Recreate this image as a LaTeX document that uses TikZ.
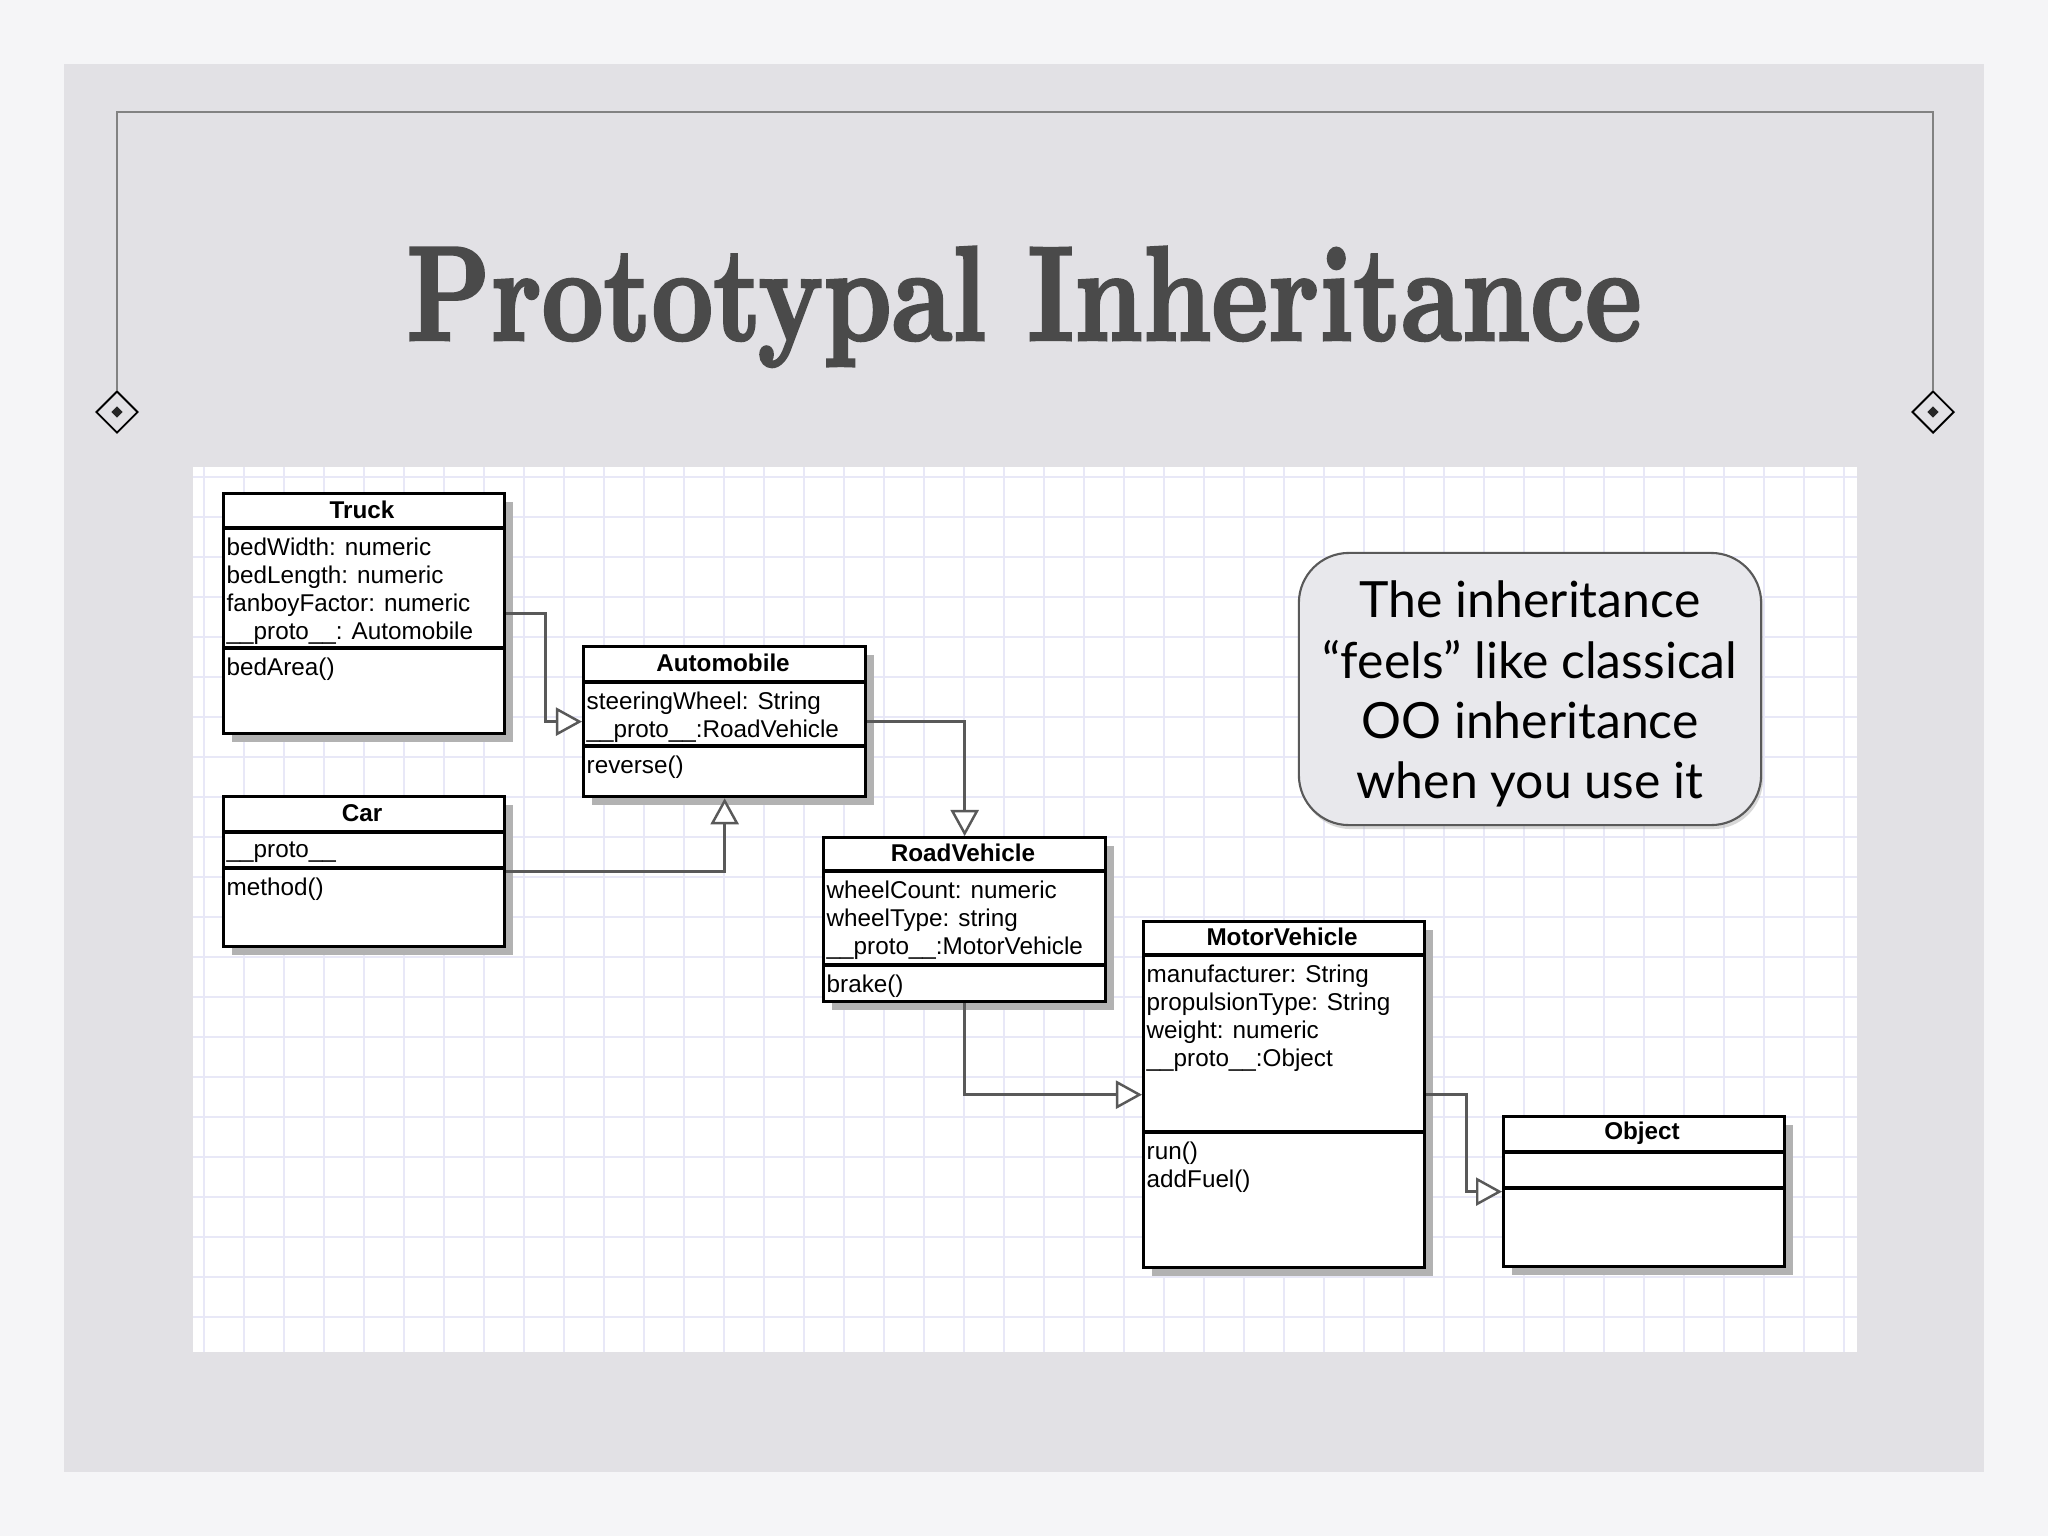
\documentclass[tikz,border=0pt]{standalone}
\usepackage{fontspec}
\setsansfont{Liberation Sans}
\newfontfamily\notefont{Lato}
\newfontface\titlefont{lmroman10-bold.otf}[FakeBold=2.2]
\usetikzlibrary{arrows.meta,positioning,shapes.geometric,shadows}

\definecolor{pagebg}{HTML}{F5F5F7}
\definecolor{panelbg}{HTML}{E2E1E5}
\definecolor{gridline}{HTML}{E8E8F7}
\definecolor{titlegray}{HTML}{4A4A4A}
\definecolor{framegray}{HTML}{828282}
\definecolor{notebg}{HTML}{E8E8EC}

\tikzset{
  umlbox/.style={draw, line width=0.9pt, fill=white, inner sep=0pt, anchor=north west,
    drop shadow={shadow xshift=0.08cm, shadow yshift=-0.08cm, fill=black!30, opacity=1}},
  umltitle/.style={font=\sffamily\bfseries\fontsize{6.9}{8}\selectfont, inner sep=0pt},
  umltext/.style={font=\sffamily\fontsize{6.9}{7.97}\selectfont, anchor=north west, align=left, inner sep=0pt},
  divider/.style={line width=0.9pt},
  inherit/.style={draw=black!65, line width=0.7pt,
    -{Triangle[open, fill=white, length=0.26cm, width=0.28cm]}},
  corner/.style={diamond, draw, line width=0.55pt, inner sep=0pt, minimum width=0.42cm, minimum height=0.42cm},
  cornerdot/.style={diamond, fill=black!85, inner sep=0pt, minimum width=0.12cm, minimum height=0.12cm},
  frameline/.style={draw=framegray, line width=0.5pt},
  notebox/.style={draw=black!65, line width=0.6pt, fill=notebg, rounded corners=0.5cm,
    minimum width=4.62cm, minimum height=2.72cm,
    drop shadow={shadow xshift=0.02cm, shadow yshift=-0.04cm, fill=black!30, opacity=0.5}},
  notetext/.style={align=center, inner sep=0pt, font=\notefont\fontsize{14.2}{17.1}\selectfont},
}

\begin{document}
\begin{tikzpicture}[x=0.01cm,y=-0.01cm]
\useasboundingbox (0,0) rectangle (2048,1536);
\fill[pagebg] (0,0) rectangle (2048,1536);
\fill[panelbg] (64,64) rectangle (1984,1472);

% frame with corner marks
\node[corner] (cornerl) at (117,412) {};
\node[corner] (cornerr) at (1933,412) {};
\node[cornerdot] (dotl) at (cornerl) {};
\node[cornerdot] (dotr) at (cornerr) {};
\draw[frameline] (cornerl.north) -- (117,112) -- (1933,112) -- (cornerr.north);

\node[anchor=base, text=titlegray, font=\titlefont\fontsize{38.2}{40}\selectfont] (title) at (1024,340)
  {\scalebox{0.80}[1]{Prototypal Inheritance}};

% diagram sheet
\fill[white] (193,467) rectangle (1857,1352);
\foreach \gx in {204,244,...,1844} \draw[gridline, line width=0.4pt] (\gx,467) -- (\gx,1352);
\foreach \gy in {477,517,...,1317} \draw[gridline, line width=0.4pt] (193,\gy) -- (1857,\gy);

% Truck
\node[umlbox, minimum width=2.81cm, minimum height=2.40cm] (truck) at (222,492) {};
\draw[divider] (222,528) -- (503,528);
\draw[divider] (222,648) -- (503,648);
\node[umltitle] (trucktitle) at (362,510) {Truck};
\node[umltext] (truckattr) at (226,537) {bedWidth: numeric\\bedLength: numeric\\fanboyFactor: numeric\\\_\_proto\_\_: Automobile};
\node[umltext] (truckops) at (226,657) {bedArea()};

% Car
\node[umlbox, minimum width=2.81cm, minimum height=1.50cm] (car) at (222,795) {};
\draw[divider] (222,832) -- (503,832);
\draw[divider] (222,868) -- (503,868);
\node[umltitle] (cartitle) at (362,813) {Car};
\node[umltext] (carattr) at (226,841) {\_\_proto\_\_};
\node[umltext] (carops) at (226,877) {method()};

% Automobile
\node[umlbox, minimum width=2.82cm, minimum height=1.50cm] (auto) at (582,645) {};
\draw[divider] (582,682) -- (864,682);
\draw[divider] (582,746) -- (864,746);
\node[umltitle] (autotitle) at (723,663) {Automobile};
\node[umltext] (autoattr) at (586,691) {steeringWheel: String\\\_\_proto\_\_:RoadVehicle};
\node[umltext] (autoops) at (586,755) {reverse()};

% RoadVehicle
\node[umlbox, minimum width=2.82cm, minimum height=1.64cm] (road) at (822,836) {};
\draw[divider] (822,871) -- (1104,871);
\draw[divider] (822,965) -- (1104,965);
\node[umltitle] (roadtitle) at (963,853) {RoadVehicle};
\node[umltext] (roadattr) at (826,880) {wheelCount: numeric\\wheelType: string\\\_\_proto\_\_:MotorVehicle};
\node[umltext] (roadops) at (826,974) {brake()};

% MotorVehicle
\node[umlbox, minimum width=2.81cm, minimum height=3.46cm] (motor) at (1142,920) {};
\draw[divider] (1142,955) -- (1423,955);
\draw[divider] (1142,1132) -- (1423,1132);
\node[umltitle] (motortitle) at (1282,937) {MotorVehicle};
\node[umltext] (motorattr) at (1146,964) {manufacturer: String\\propulsionType: String\\weight: numeric\\\_\_proto\_\_:Object};
\node[umltext] (motorops) at (1146,1141) {run()\\addFuel()};

% Object
\node[umlbox, minimum width=2.81cm, minimum height=1.50cm] (object) at (1502,1115) {};
\draw[divider] (1502,1152) -- (1783,1152);
\draw[divider] (1502,1188) -- (1783,1188);
\node[umltitle] (objecttitle) at (1642,1133) {Object};

% prototype links
\draw[inherit] (truck.east) -- ++(39,0) |- (auto.west);
\draw[inherit] (car.east) -| (auto.south);
\draw[inherit] (auto.east) -| (road.north);
\draw[inherit] (road.south) |- (motor.west);
\draw[inherit] (motor.east) -- ++(40,0) |- (object.west);

\node[notebox] (note) at (1530,689) {};
\node[notetext] (notelines) at (1530,694) {The inheritance\\“feels” like classical\\OO inheritance\\when you use it};
\end{tikzpicture}
\end{document}
